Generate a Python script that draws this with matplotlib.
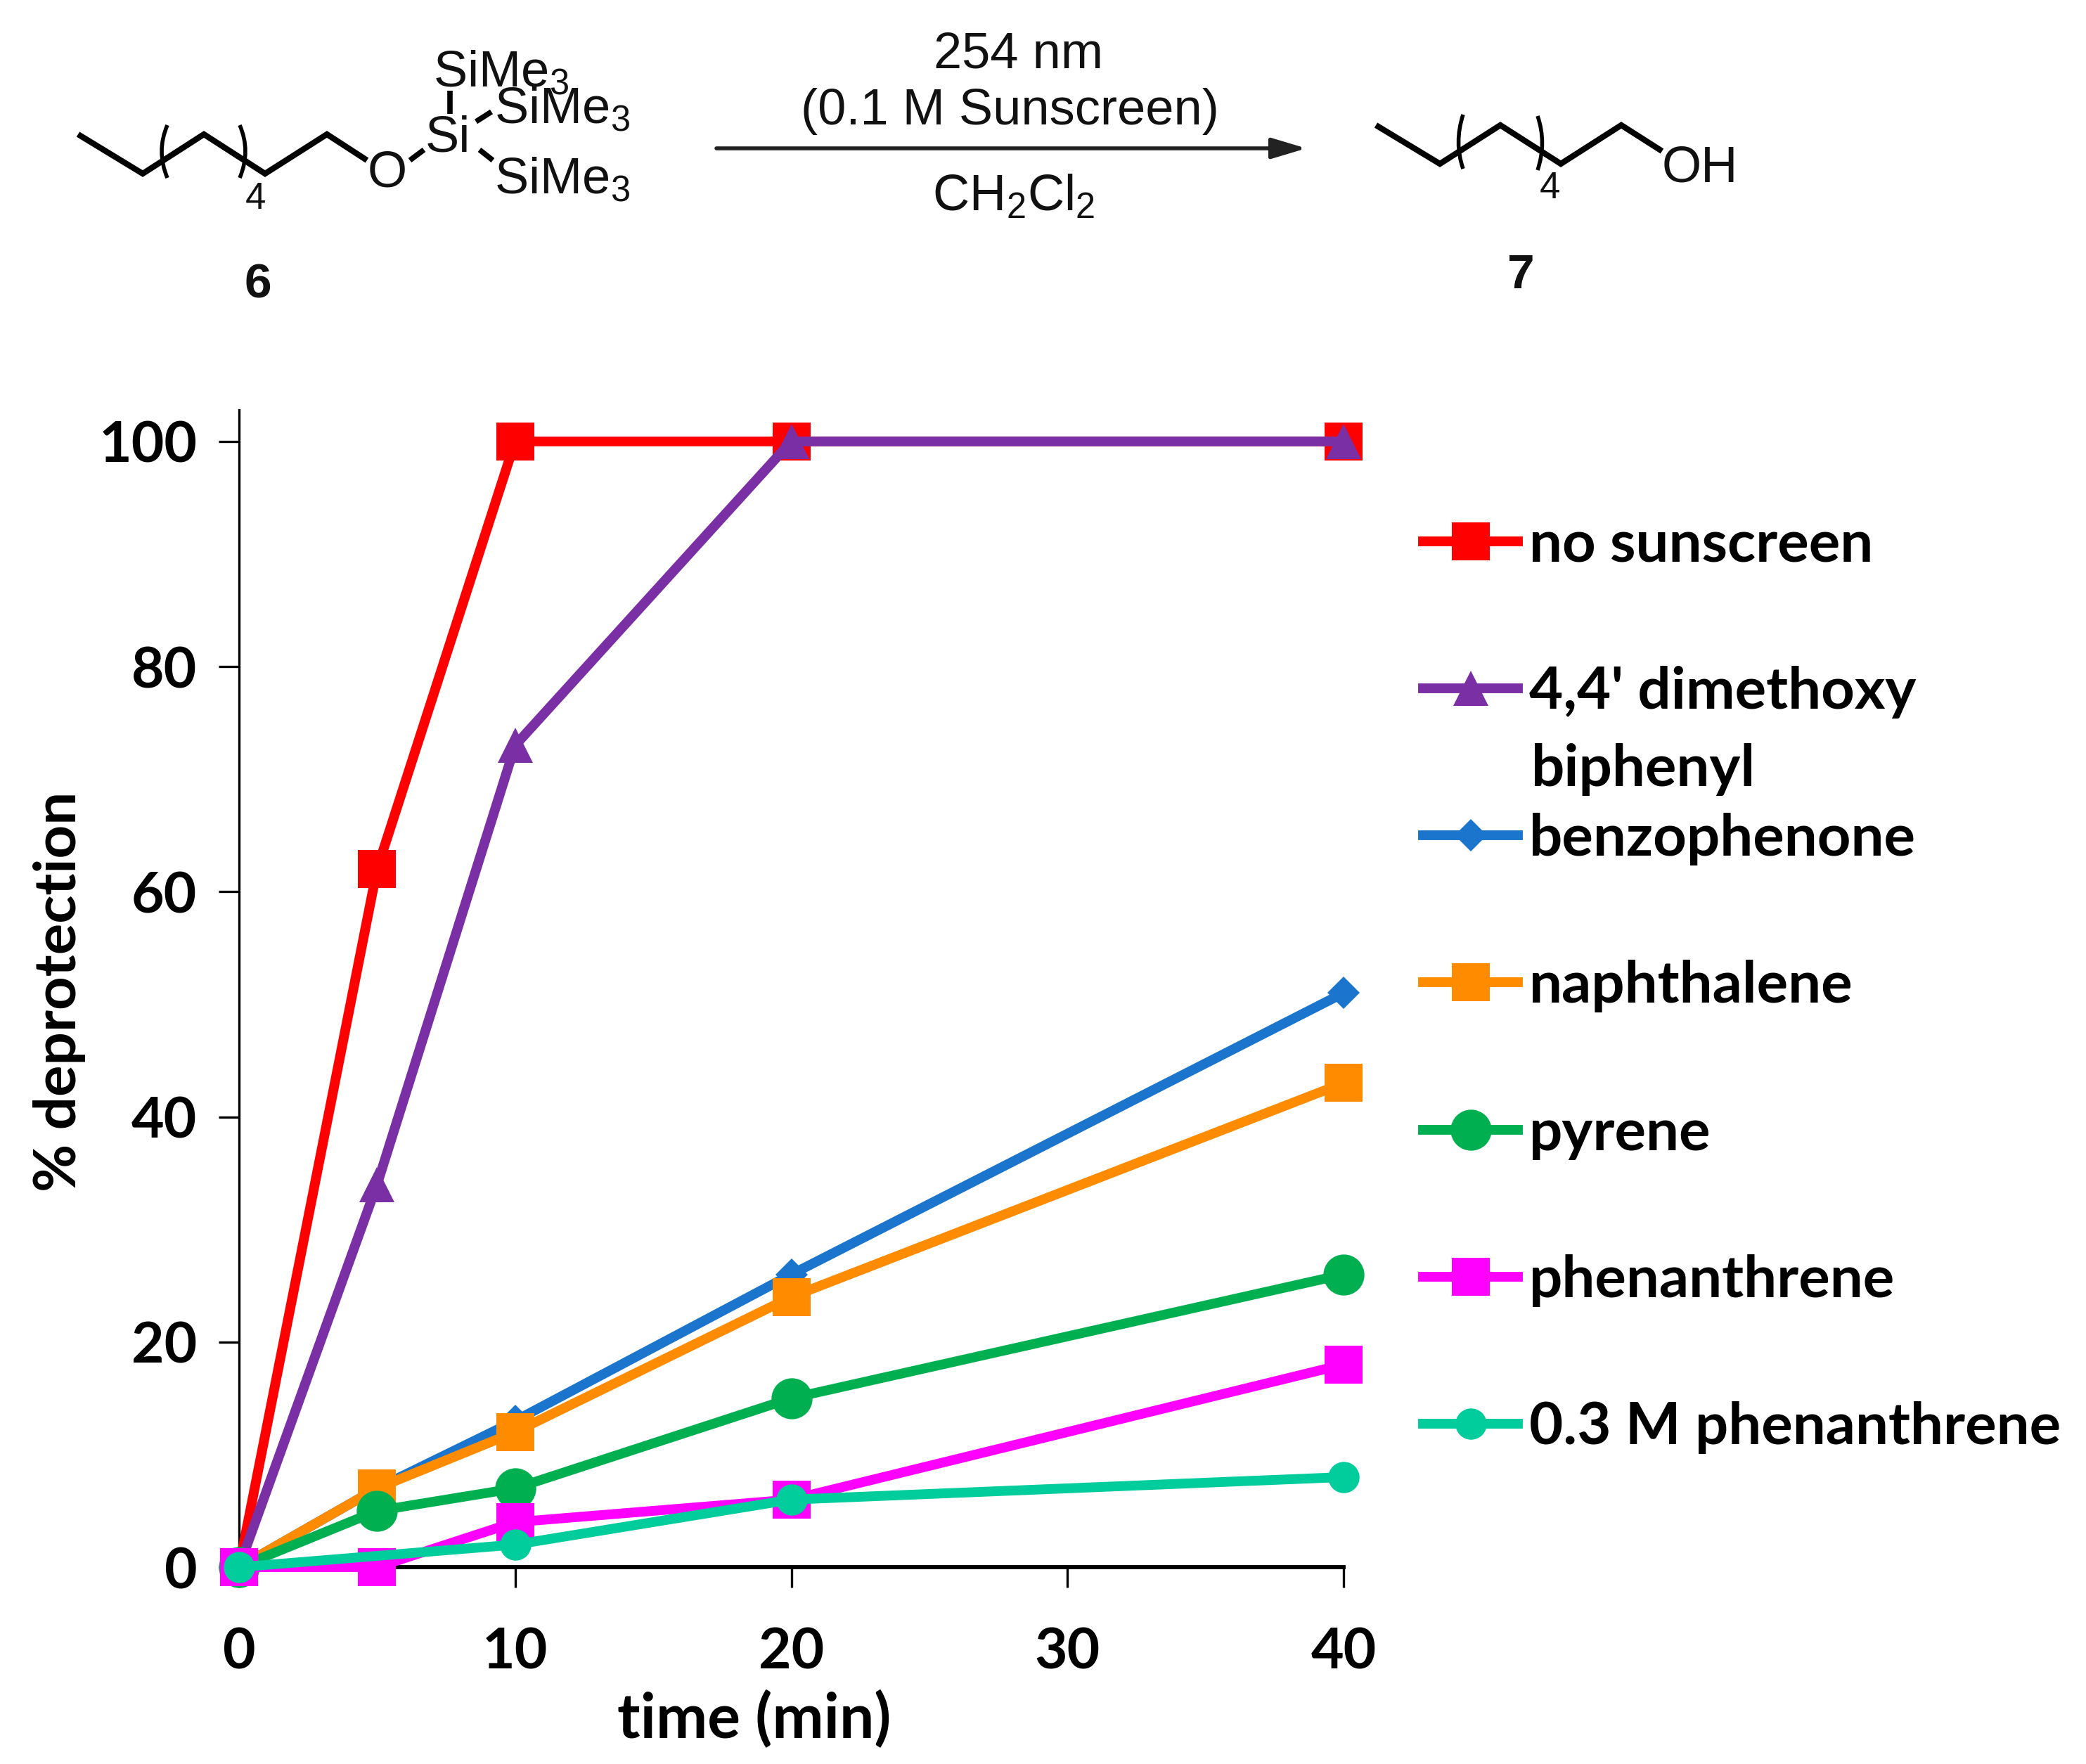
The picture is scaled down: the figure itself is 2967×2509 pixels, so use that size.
import numpy as np
import matplotlib
matplotlib.use("Agg")
import matplotlib.pyplot as plt
from matplotlib.path import Path
from matplotlib.patches import PathPatch

plt.rcParams["font.family"] = "Lato"
plt.rcParams["mathtext.fontset"] = "custom"
plt.rcParams["mathtext.rm"] = "Liberation Sans"
plt.rcParams["mathtext.default"] = "rm"

W, H = 2967, 2509

# data
time = [0, 5, 10, 20, 40]
time_03 = [0, 10, 20, 40]
no_sunscreen = [0, 62, 100, 100, 100]
dimethoxy = [0, 34, 73, 100, 100]
benzophenone = [0, 7, 13, 26, 51]
naphthalene = [0, 7, 12, 24, 43]
pyrene = [0, 5, 7, 15, 26]
phenanthrene = [0, 0, 4, 6, 18]
phenanthrene_03 = [0, 2, 6, 8]
xticks = [0, 10, 20, 30, 40]
yticks = [0, 20, 40, 60, 80, 100]

fig = plt.figure(figsize=(W / 100, H / 100), dpi=100)

# chart
x0, x1, y0, ytop = 340, 1911, 2229, 583
ax = fig.add_axes([x0 / W, 1 - y0 / H, (x1 - x0) / W, (y0 - ytop) / H])
lw = 10
series = [
    (time, no_sunscreen, "#FF0000", "s", 39, "no sunscreen"),
    (time, dimethoxy, "#7B2FA5", "^", 36, "4,4' dimethoxy"),
    (time, benzophenone, "#1B75CC", "D", 23, "benzophenone"),
    (time, naphthalene, "#FF8C00", "s", 39, "naphthalene"),
    (time, pyrene, "#00B050", "o", 42, "pyrene"),
    (time, phenanthrene, "#FF00FF", "s", 39, "phenanthrene"),
    (time_03, phenanthrene_03, "#00CC9C", "o", 32, "0.3 M phenanthrene"),
]
for xs, ys, col, mk, ms, lab in series:
    ax.plot(xs, ys, color=col, marker=mk, markersize=ms, lw=lw, mew=0,
            label=lab, clip_on=False, zorder=5)

ax.set_xlim(0, 40)
ax.set_ylim(0, 102.8)
ax.set_xticks(xticks)
ax.set_yticks(yticks)
ax.spines["top"].set_visible(False)
ax.spines["right"].set_visible(False)
ax.spines["bottom"].set_linewidth(4.2)
ax.spines["left"].set_linewidth(2.4)
ax.tick_params(axis="both", length=21, width=2.4, labelsize=58)
ax.tick_params(axis="x", pad=40)
ax.tick_params(axis="y", pad=22)
for t in ax.get_xticklabels() + ax.get_yticklabels():
    t.set_fontweight("bold")
ax.set_xlabel("time (min)", fontsize=63, fontweight="bold", va="center")
ax.set_ylabel("% deprotection", fontsize=60, fontweight="bold", va="center")
ax.xaxis.set_label_coords((1073 - x0) / (x1 - x0), (y0 - 2445) / (y0 - ytop))
ax.yaxis.set_label_coords((85 - x0) / (x1 - x0), (y0 - 1410) / (y0 - ytop))

leg = fig.legend(loc="upper left", bbox_to_anchor=(2024 / W, 1 - 738 / H),
                 frameon=False, prop={"weight": "bold", "size": 60},
                 borderpad=0, borderaxespad=0, numpoints=1,
                 handlelength=1.62, handletextpad=0.19, labelspacing=1.61)

# reaction scheme, in pixel coordinates
sk = fig.add_axes([0, 0, 1, 1], zorder=-1)
sk.set_xlim(0, W)
sk.set_ylim(H, 0)
sk.axis("off")


def bond(pts, w=6):
    pts = np.array(pts)
    sk.plot(pts[:, 0], pts[:, 1], color="black", lw=w, solid_joinstyle="miter", solid_capstyle="butt")


def paren(top, ctrl, bottom):
    sk.add_patch(PathPatch(Path([top, ctrl, bottom], [Path.MOVETO, Path.CURVE3, Path.CURVE3]),
                           fc="none", ec="black", lw=4))


def chem(x, y, s, ha="left", size=52, weight="normal"):
    sk.text(x, y, s, ha=ha, va="center", fontsize=size, family="Liberation Sans", weight=weight, color="#111111")


bond([(111, 191), (203, 247), (290, 191), (377, 247), (465, 191), (522, 228)])
paren((238, 178), (222, 215), (238, 253))
paren((341, 178), (357, 215), (341, 253))
chem(363, 283, "4", ha="center", size=38)
chem(551, 247, "O", ha="center")
chem(637, 197, "Si", ha="center")
for p, q in [((583, 228), (603, 213)), ((640, 129), (640, 162)),
             ((677, 173), (699, 159)), ((682, 213), (701, 228))]:
    bond([p, q], w=5.5)
chem(616, 104, "SiMe$_3$")
chem(703, 156, "SiMe$_3$")
chem(703, 256, "SiMe$_3$")
chem(367, 406, "6", ha="center", size=50, weight="bold")

sk.annotate("", xy=(1858, 211), xytext=(1019, 211),
            arrowprops=dict(arrowstyle="-|>,head_length=3.0,head_width=0.9", color="#222222", lw=4,
                            shrinkA=0, shrinkB=0))
chem(1448, 78, "254 nm", ha="center")
chem(1436, 158, "(0.1 M Sunscreen)", ha="center")
chem(1442, 281, "CH$_2$Cl$_2$", ha="center")

bond([(1957, 178), (2048, 233), (2134, 178), (2220, 233), (2306, 178), (2364, 215)])
paren((2081, 163), (2068, 203), (2081, 240))
paren((2187, 165), (2200, 203), (2187, 242))
chem(2204, 268, "4", ha="center", size=38)
chem(2364, 240, "OH")
chem(2163, 392, "7", ha="center", size=50, weight="bold")

# second line of the long legend entry
sk.text(2178, 1094, "biphenyl", ha="left", va="center", fontsize=60, fontweight="bold")

fig.savefig("out.png", dpi=100)
